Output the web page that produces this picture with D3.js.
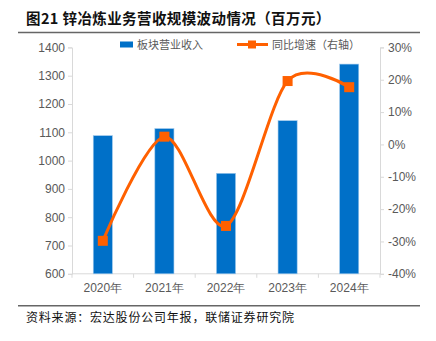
<!DOCTYPE html>
<html><head><meta charset="utf-8">
<script src="https://cdn.jsdelivr.net/npm/d3@7"></script>
<style>body{margin:0;background:#fff}svg{display:block}</style>
</head><body><svg id="c" width="436" height="341"></svg>
<script>
const categories = ["2020年","2021年","2022年","2023年","2024年"];
const revenue = [1088, 1113, 955, 1141, 1341];
const growth = [-29.8, 2.4, -25.2, 19.6, 17.7];
const leftTicks = [600,700,800,900,1000,1100,1200,1300,1400];
const rightTicks = [-40,-30,-20,-10,0,10,20,30];
const title = "图21 锌冶炼业务营收规模波动情况（百万元）";
const source = "资料来源：宏达股份公司年报，联储证券研究院";
const legendNames = ["板块营业收入","同比增速（右轴）"];

const svg = d3.select("#c");
const L = 72, R = 380, T = 47.4, B = 273.8;
const x = d3.scaleBand().domain(categories).range([L, R]).paddingInner(0.69).paddingOuter(0.345);
const xc = d3.scaleBand().domain(categories).range([L, R]);
const yL = d3.scaleLinear().domain([600,1400]).range([B, T]);
const yR = d3.scaleLinear().domain([-40,30]).range([B, T]);
const axisColor = "#d9d9d9", txt = "#595959";
const cjk = "'Noto Sans CJK SC', sans-serif";

// title
svg.append("text").attr("x",26).attr("y",24).attr("font-family",cjk).attr("font-weight","bold")
  .attr("font-size",14.5).attr("letter-spacing",0.4).attr("fill","#111").text(title);
svg.append("line").attr("x1",18).attr("x2",420).attr("y1",32.5).attr("y2",32.5).attr("stroke","#666").attr("stroke-width",1.5);

// left axis
const gl = svg.append("g").attr("transform",`translate(${L},0)`)
  .call(d3.axisLeft(yL).tickValues(leftTicks).tickSize(4).tickPadding(3).tickFormat(d3.format("d")));
// right axis
const gr = svg.append("g").attr("transform",`translate(${R},0)`)
  .call(d3.axisRight(yR).tickValues(rightTicks).tickSize(4).tickPadding(4).tickFormat(d => d + "%"));
// x axis
const gx = svg.append("g").attr("transform",`translate(0,${B})`)
  .call(d3.axisBottom(xc).tickSize(0).tickPadding(10));
[gl,gr,gx].forEach(g => {
  g.selectAll("path,line").attr("stroke",axisColor);
  g.selectAll("text").attr("fill",txt).attr("font-family","'Liberation Sans', Arial, sans-serif").attr("font-size",12);
});
gx.select(".domain").attr("d",`M${L},0H${R}`);
gx.selectAll(".sep").data(d3.range(categories.length+1)).enter().append("line")
  .attr("x1",i=>L+i*xc.step()).attr("x2",i=>L+i*xc.step()).attr("y1",0).attr("y2",4).attr("stroke",axisColor);

// bars
svg.append("g").selectAll("rect").data(revenue).enter().append("rect")
  .attr("x",(d,i)=>x(categories[i])).attr("width",x.bandwidth())
  .attr("y",d=>yL(d)).attr("height",d=>B-yL(d))
  .attr("fill","#0070C8").attr("stroke","#9cc7ec").attr("stroke-width",0.6);

// line
const pts = growth.map((g,i)=>[xc(categories[i])+xc.bandwidth()/2, yR(g)]);
svg.append("path").attr("d",d3.line().curve(d3.curveCardinal.tension(0.1))(pts))
  .attr("fill","none").attr("stroke","#FF6000").attr("stroke-width",3);
svg.append("g").selectAll("rect").data(pts).enter().append("rect")
  .attr("x",d=>d[0]-5).attr("y",d=>d[1]-5).attr("width",10).attr("height",10).attr("fill","#FF6000");

// legend
const lg = svg.append("g");
lg.append("rect").attr("x",120).attr("y",41.5).attr("width",13).attr("height",6).attr("fill","#0070C8");
lg.append("text").attr("x",137).attr("y",49).attr("font-family",cjk).attr("font-size",11).attr("fill",txt).text(legendNames[0]);
lg.append("line").attr("x1",237).attr("x2",268).attr("y1",44.5).attr("y2",44.5).attr("stroke","#FF6000").attr("stroke-width",3);
lg.append("rect").attr("x",248).attr("y",40.5).attr("width",8).attr("height",8).attr("fill","#FF6000");
lg.append("text").attr("x",272).attr("y",49).attr("font-family",cjk).attr("font-size",11).attr("fill",txt).text(legendNames[1]);

// footer
svg.append("line").attr("x1",18).attr("x2",420).attr("y1",305.7).attr("y2",305.7).attr("stroke","#666").attr("stroke-width",1.5);
svg.append("text").attr("x",26).attr("y",322).attr("font-family",cjk).attr("font-size",12).attr("letter-spacing",0.8).attr("fill","#111").text(source);
</script></body></html>
